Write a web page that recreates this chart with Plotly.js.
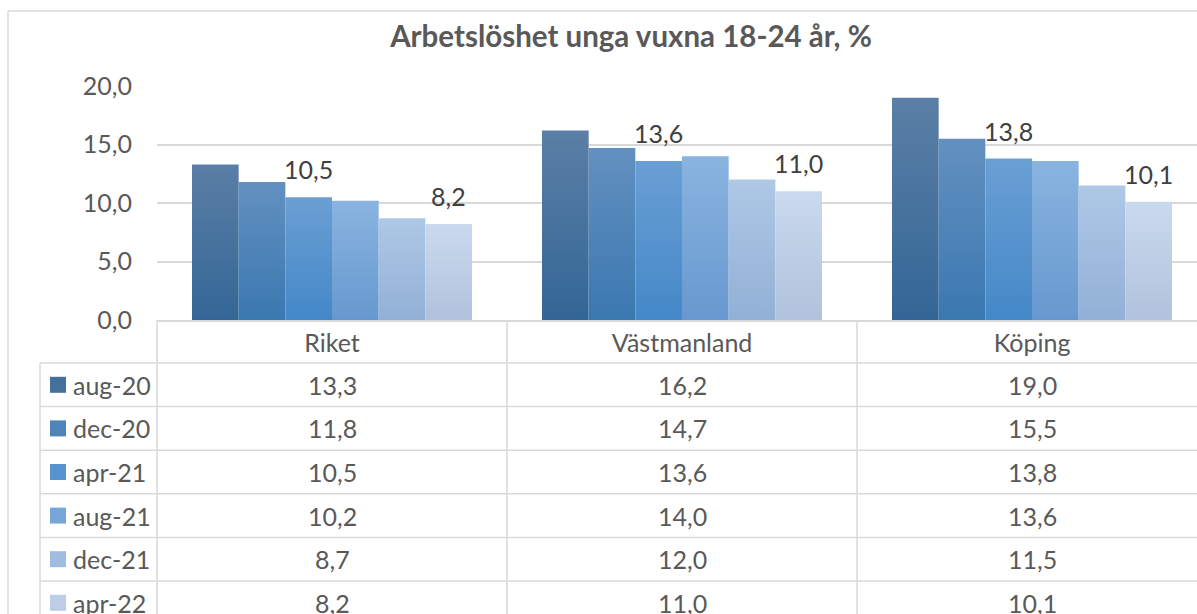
<!DOCTYPE html>
<html>
<head>
<meta charset="utf-8">
<script src="https://cdn.plot.ly/plotly-3.0.1.min.js"></script>
<style>
  html, body { margin: 0; padding: 0; overflow: hidden; background: #ffffff; }
  #chart { width: 1215px; height: 660px; }
</style>
</head>
<body>
<div id="chart"></div>
<script>
// ---- data ----
const categories = ['Riket', 'Västmanland', 'Köping'];
const seriesNames = ['aug-20', 'dec-20', 'apr-21', 'aug-21', 'dec-21', 'apr-22'];
const aug20 = [13.3, 16.2, 19.0];
const dec20 = [11.8, 14.7, 15.5];
const apr21 = [10.5, 13.6, 13.8];
const aug21 = [10.2, 14.0, 13.6];
const dec21 = [8.7, 12.0, 11.5];
const apr22 = [8.2, 11.0, 10.1];
const labeledSeries = ['apr-21', 'apr-22'];
const yTicks = [0, 5, 10, 15, 20];
const titleText = 'Arbetslöshet unga vuxna 18-24 år, %';

// ---- style ----
const seriesValues = [aug20, dec20, apr21, aug21, dec21, apr22];
const colors = ['#44709e', '#4e84b8', '#5794ce', '#78a6d8', '#a0bcde', '#bdcde5'];
const gradTop = ['#5b7fa6', '#6390c0', '#6a9fd4', '#8ab4e0', '#aec8e6', '#cad9ee'];
const gradBottom = ['#336696', '#3a78b0', '#4488c8', '#6698cf', '#92b0d6', '#b0c2dc'];
const FONT = 'Lato, "Open Sans", sans-serif';
const TXT = '#595959';
const GRID = '#d9d9d9';
const FS = 25;

const W = 1215, H = 660;
const L = 157, R = 8, T = 86, PB = 320;   // plot area in pixels
const plotW = W - L - R, plotH = PB - T;
const px2x = p => (p - L) / plotW;
const py2y = p => (PB - p) / plotH;

const bargap = 0.2;
const catW = plotW / categories.length;
const barW = catW * (1 - bargap) / seriesNames.length;

const headerBottom = 363, rowH = 43.6;
const rowCenter = i => headerBottom + i * rowH + rowH / 2;
const fmt = v => v.toFixed(1).replace('.', ',');

const traces = seriesNames.map((name, i) => ({
  type: 'bar',
  name: name,
  x: categories,
  y: seriesValues[i],
  marker: { color: colors[i], line: { width: 0 } },
  showlegend: false,
  hovertemplate: name + ': %{y:.1f}<extra>%{x}</extra>'
}));

const shapes = [];
const annotations = [];
const line = (x0, y0, x1, y1) => ({
  type: 'line', xref: 'paper', yref: 'paper',
  x0: px2x(x0), y0: py2y(y0), x1: px2x(x1), y1: py2y(y1),
  line: { color: GRID, width: 1.5 }
});

// outer chart border (top + left)
shapes.push(line(8, 11, W, 11));
shapes.push(line(8, 11, 8, H));

// data table grid
const tableLeft = 40;
for (let k = 0; k <= categories.length; k++) {
  const xp = L + k * catW;
  shapes.push(line(xp, PB, xp, H));
}
shapes.push(line(tableLeft, headerBottom, tableLeft, H));
for (let i = 0; i <= seriesNames.length; i++) {
  const yp = headerBottom + i * rowH;
  shapes.push(line(tableLeft, yp, L + plotW, yp));
}

// table rows: legend key, series name and values
seriesNames.forEach((name, i) => {
  const cy = rowCenter(i);
  shapes.push({
    type: 'rect', xref: 'paper', yref: 'paper',
    x0: px2x(50), x1: px2x(66), y0: py2y(cy - 8), y1: py2y(cy + 8),
    fillcolor: colors[i], line: { width: 0 }
  });
  annotations.push({
    xref: 'paper', yref: 'paper', x: px2x(71), y: py2y(cy),
    xanchor: 'left', yanchor: 'middle', showarrow: false,
    text: name, font: { family: FONT, size: FS, color: TXT }
  });
  categories.forEach((c, j) => {
    annotations.push({
      xref: 'x', yref: 'paper', x: j, y: py2y(cy),
      xanchor: 'center', yanchor: 'middle', showarrow: false,
      text: fmt(seriesValues[i][j]), font: { family: FONT, size: FS, color: TXT }
    });
  });
});

// data labels above selected series
seriesNames.forEach((name, i) => {
  if (!labeledSeries.includes(name)) return;
  categories.forEach((c, j) => {
    annotations.push({
      xref: 'x', yref: 'y', x: j, y: seriesValues[i][j],
      xshift: (i - (seriesNames.length - 1) / 2) * barW,
      yshift: 28, showarrow: false,
      text: fmt(seriesValues[i][j]), font: { family: FONT, size: FS, color: '#404040' }
    });
  });
});

const layout = {
  width: W, height: H,
  margin: { l: L, r: R, t: T, b: H - PB, pad: 0 },
  paper_bgcolor: '#ffffff', plot_bgcolor: '#ffffff',
  separators: ', ',
  barmode: 'group', bargap: bargap, bargroupgap: 0,
  title: {
    text: '<b>' + titleText + '</b>',
    xref: 'container', yref: 'container',
    x: 631 / W, xanchor: 'center', y: 1 - 37 / H, yanchor: 'middle',
    font: { family: FONT, size: 29.5, color: TXT }
  },
  xaxis: {
    type: 'category', range: [-0.5, categories.length - 0.5],
    showgrid: false, showline: true, linecolor: GRID, linewidth: 1.5,
    ticks: '', ticklabelstandoff: 0,
    tickfont: { family: FONT, size: FS, color: TXT },
    fixedrange: true
  },
  yaxis: {
    range: [0, 20], tickvals: yTicks, tickformat: '.1f',
    showgrid: true, gridcolor: GRID, gridwidth: 1.5,
    zeroline: false, showline: false, ticks: '',
    ticklabelstandoff: 24,
    tickfont: { family: FONT, size: FS, color: TXT },
    fixedrange: true
  },
  shapes: shapes,
  annotations: annotations,
  hovermode: 'closest'
};

function applyGradients(gd) {
  const svg = gd.querySelector('svg.main-svg');
  if (!svg) return;
  const NS = 'http://www.w3.org/2000/svg';
  let defs = svg.querySelector('defs');
  if (!defs) { defs = document.createElementNS(NS, 'defs'); svg.insertBefore(defs, svg.firstChild); }
  gradTop.forEach((top, i) => {
    const id = 'bargrad' + i;
    if (defs.querySelector('#' + id)) return;
    const g = document.createElementNS(NS, 'linearGradient');
    g.setAttribute('id', id);
    g.setAttribute('x1', '0'); g.setAttribute('y1', '0');
    g.setAttribute('x2', '0'); g.setAttribute('y2', '1');
    [[0, top], [1, gradBottom[i]]].forEach(([off, col]) => {
      const s = document.createElementNS(NS, 'stop');
      s.setAttribute('offset', off);
      s.setAttribute('stop-color', col);
      g.appendChild(s);
    });
    defs.appendChild(g);
  });
  gd.querySelectorAll('.barlayer .trace').forEach((tr, i) => {
    tr.querySelectorAll('path').forEach(p => { p.style.fill = 'url(#bargrad' + i + ')'; });
  });
}

Plotly.newPlot('chart', traces, layout, { displayModeBar: false, responsive: false })
  .then(gd => applyGradients(gd));
</script>
</body>
</html>
